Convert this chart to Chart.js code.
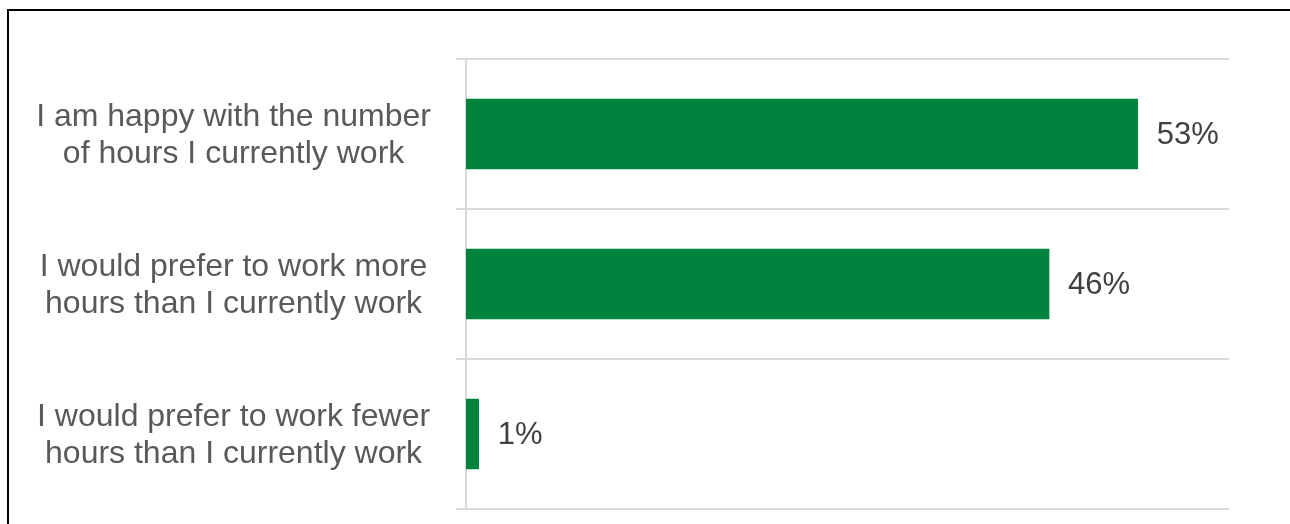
<!DOCTYPE html>
<html lang="en">
<head>
  <meta charset="UTF-8" />
  <title>Working hours preference</title>
  <script src="https://cdn.jsdelivr.net/npm/chart.js"></script>
  <style>
    html, body { margin: 0; padding: 0; background: #fff; }
    body { width: 1290px; height: 524px; position: relative; overflow: hidden; }
    .frame {
      position: absolute; left: 7px; top: 9px; width: 1400px; height: 600px;
      border-left: 2px solid #000; border-top: 2px solid #000;
    }
    .wrap { position: absolute; left: 0; top: 0; width: 1290px; height: 524px; }
  </style>
</head>
<body>
  <div class="frame"></div>
  <div class="wrap"><canvas id="hoursChart" width="1290" height="524"></canvas></div>

  <script>
    const categories = [
      ["I am happy with the number", "of hours I currently work"],
      ["I would prefer to work more", "hours than I currently work"],
      ["I would prefer to work fewer", "hours than I currently work"]
    ];
    const shares = [53, 46, 1];

    // value labels to the right of each bar
    const barLabels = {
      id: 'barLabels',
      afterDatasetsDraw(chart) {
        const ctx = chart.ctx;
        const meta = chart.getDatasetMeta(0);
        ctx.save();
        ctx.font = '31px "Liberation Sans", Arial, sans-serif';
        ctx.fillStyle = '#404040';
        ctx.textAlign = 'left';
        ctx.textBaseline = 'middle';
        meta.data.forEach((bar, i) => {
          ctx.fillText(shares[i] + '%', bar.x + 19, bar.y + 1);
        });
        ctx.restore();
      }
    };

    const ctx = document.getElementById("hoursChart").getContext("2d");
    new Chart(ctx, {
      type: 'bar',
      data: {
        labels: categories,
        datasets: [{
          data: shares,
          backgroundColor: '#00843D',
          borderWidth: 0,
          barThickness: 70
        }]
      },
      options: {
        indexAxis: 'y',
        responsive: false,
        animation: false,
        layout: { padding: { left: 0, right: 61, top: 59, bottom: 15 } },
        plugins: { legend: { display: false }, tooltip: { enabled: false } },
        scales: {
          x: { display: false, min: 0, max: 60.2 },
          y: {
            afterFit(scale) {
              scale.width = 466;
              scale.paddingTop = 0;
              scale.paddingBottom = 0;
            },
            grid: { color: '#d9d9d9', lineWidth: 2, tickLength: 10, offset: true },
            border: { color: '#d9d9d9', width: 2 },
            ticks: {
              color: '#595959',
              padding: 25,
              labelOffset: 2,
              crossAlign: 'center',
              font: { family: '"Liberation Sans", Arial, sans-serif', size: 32, lineHeight: 1.16 }
            }
          }
        }
      },
      plugins: [barLabels]
    });
  </script>
</body>
</html>
